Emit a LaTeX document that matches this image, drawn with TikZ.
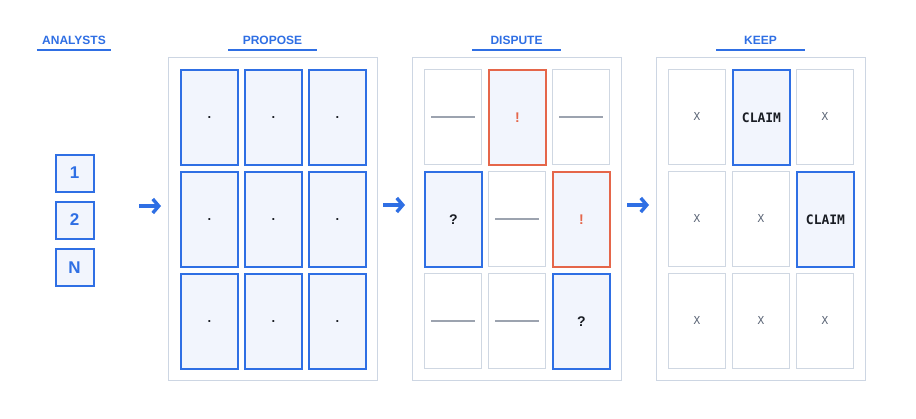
\documentclass[tikz,border=0pt]{standalone}
\usepackage{fontspec}
\setmainfont{Liberation Sans}
\setmonofont{DejaVu Sans Mono}
\usetikzlibrary{arrows.meta}
\definecolor{cblue}{HTML}{2F6FE4}
\definecolor{cred}{HTML}{E5664A}
\definecolor{cfill}{HTML}{F2F5FD}
\definecolor{cpanel}{HTML}{CDD6E3}
\definecolor{cempty}{HTML}{CFD7E2}
\definecolor{cdash}{HTML}{9CA3AF}
\definecolor{cxgray}{HTML}{5A6475}
\definecolor{cink}{HTML}{1A1D24}
\tikzset{
  panel/.style={draw=cpanel, line width=1.1pt, fill=white, minimum width=209pt, minimum height=323pt, anchor=north west, inner sep=0pt},
  card/.style={minimum width=57pt, minimum height=95pt, anchor=north west, inner sep=0pt, font=\bfseries\fontsize{14}{15}\selectfont},
  emptycard/.style={card, draw=cempty, line width=0.8pt, fill=white},
  bluecard/.style={card, draw=cblue, line width=2pt, fill=cfill, text=cink},
  redcard/.style={card, draw=cred, line width=2pt, fill=cfill, text=cred},
  claimcard/.style={bluecard, font=\ttfamily\bfseries\fontsize{13}{14}\selectfont},
  dotcard/.style={bluecard, font=\ttfamily\bfseries\fontsize{11}{12}\selectfont},
  xcard/.style={emptycard, text=cxgray, font=\ttfamily\fontsize{11}{12}\selectfont},
  title/.style={minimum width=88pt, minimum height=20pt, inner sep=0pt, text=cblue, font=\bfseries\fontsize{12}{13}\selectfont},
  uline/.style={draw=cblue, line width=2pt},
  abox/.style={draw=cblue, line width=2pt, fill=cfill, minimum width=38pt, minimum height=37pt, inner sep=0pt, text=cblue, font=\bfseries\fontsize{17}{18}\selectfont},
  flow/.style={draw=cblue, line width=3.4pt, -{Straight Barb[length=6pt,width=14pt,line width=3.4pt]}},
  dashline/.style={draw=cdash, line width=1.4pt},
}
\begin{document}
\begin{tikzpicture}[x=1pt,y=-1pt]
\useasboundingbox (0,0) rectangle (916,418);
\fill[white] (0,0) rectangle (916,418);
% titles
\node[title, minimum width=74pt] (tA) at (74,40) {ANALYSTS};
\node[title] (tP) at (272.5,40) {PROPOSE};
\node[title] (tD) at (516.5,40) {DISPUTE};
\node[title] (tK) at (760.5,40) {KEEP};
\foreach \t in {tA,tP,tD,tK} \draw[uline] (\t.south west) -- (\t.south east);
% analysts
\node[abox] (a1) at (74.5,173) {1};
\node[abox] (a2) at (74.5,220) {2};
\node[abox] (aN) at (74.5,267.5) {N};
% panels
\node[panel] (pP) at (168,57) {};
\node[panel] (pD) at (412,57) {};
\node[panel] (pK) at (656,57) {};
% propose cards
\foreach \r/\y in {1/69,2/171,3/273}{
  \foreach \c/\x in {1/12,2/76,3/140}{
    \node[dotcard] (P\r\c) at (168+\x,\y) {.};
  }
}
% dispute cards
\node[emptycard] (D11) at (424,69) {};
\node[redcard]   (D12) at (488,69) {!};
\node[emptycard] (D13) at (552,69) {};
\node[bluecard]  (D21) at (424,171) {?};
\node[emptycard] (D22) at (488,171) {};
\node[redcard]   (D23) at (552,171) {!};
\node[emptycard] (D31) at (424,273) {};
\node[emptycard] (D32) at (488,273) {};
\node[bluecard]  (D33) at (552,273) {?};
\foreach \n in {D11,D13,D22,D31,D32}
  \draw[dashline] ([xshift=7pt]\n.west) -- ([xshift=-7pt]\n.east);
% keep cards
\node[xcard]     (K11) at (668,69) {X};
\node[claimcard] (K12) at (732,69) {CLAIM};
\node[xcard]     (K13) at (796,69) {X};
\node[xcard]     (K21) at (668,171) {X};
\node[xcard]     (K22) at (732,171) {X};
\node[claimcard] (K23) at (796,171) {CLAIM};
\node[xcard]     (K31) at (668,273) {X};
\node[xcard]     (K32) at (732,273) {X};
\node[xcard]     (K33) at (796,273) {X};
% arrows
\coordinate (f1s) at (139,206); \coordinate (f1e) at (161,206);
\coordinate (f2s) at (383,205); \coordinate (f2e) at (405,205);
\coordinate (f3s) at (627,205); \coordinate (f3e) at (649,205);
\draw[flow] (f1s) -- (f1e);
\draw[flow] (f2s) -- (f2e);
\draw[flow] (f3s) -- (f3e);
\end{tikzpicture}
\end{document}
